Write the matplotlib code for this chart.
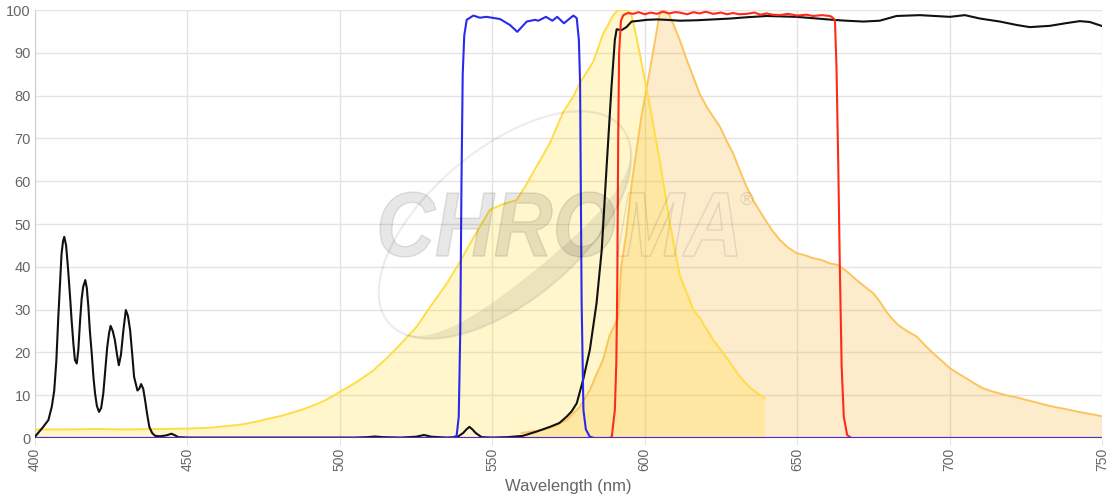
import numpy as np
import matplotlib
matplotlib.use("Agg")
import matplotlib.pyplot as plt
from matplotlib.textpath import TextPath
from matplotlib.font_manager import FontProperties
from matplotlib.patches import PathPatch, Polygon
from matplotlib.lines import Line2D
from matplotlib.transforms import Affine2D

# ---------------- data ----------------
black_x = [400, 402.7, 404.4, 405.5, 406.3, 407.0, 407.6, 408.2, 408.7, 409.2, 409.6, 410.2, 410.9, 411.5, 412.0, 412.6, 413.1, 413.7,
           414.2, 414.8, 415.3, 415.8, 416.5, 417.0, 417.5, 418.0, 418.6, 419.2, 419.7, 420.3, 421.0, 421.7, 422.4, 423.0, 423.7, 424.3,
           424.8, 425.5, 426.2, 426.9, 427.5, 428.2, 429.0, 429.8, 430.5, 431.2, 431.9, 432.5, 433.6, 434.2, 434.8, 435.5, 436.1, 436.8,
           437.5, 438.4, 439.4, 441.0, 443.0, 444.8, 446.0, 447.0, 450, 460, 470, 480, 490, 500, 505, 509, 511.5, 514, 520, 525, 527.6,
           530, 535, 538.5, 540.5, 541.5, 542.5, 543.5, 544.5, 546.5, 550, 555, 560, 564.5, 568.9, 572.0, 574.4, 576.0, 577.7, 579.8,
           582.0, 584.2, 585.9, 587.5, 589.1, 590.2, 590.8, 592.4, 594.0, 595.7, 598.4, 600.6, 604, 607.2, 611.5, 617, 622.5, 628, 633.4,
           640.0, 645, 649.8, 655, 661.8, 666, 671.7, 677.1, 682.6, 690.3, 695, 700.1, 705.0, 710.0, 716.5, 722.0, 726.3, 732.9, 738,
           742.7, 746, 749.8]
black_y = [0.3, 2.6, 4.2, 7.3, 11.0, 18.0, 27.6, 36.0, 43.0, 46.0, 47.0, 45.0, 39.0, 33.0, 27.6, 22.0, 18.2, 17.4,
           20.5, 27.6, 32.5, 35.3, 36.9, 35.0, 30.7, 25.0, 19.8, 14.0, 10.4, 7.5, 6.1, 7.0, 10.4, 15.5, 21.3, 24.5,
           26.2, 25.0, 22.9, 19.5, 17.0, 19.5, 25.2, 29.9, 28.5, 25.2, 19.5, 14.3, 11.1, 11.5, 12.6, 11.5, 8.9, 5.5,
           2.6, 1.2, 0.5, 0.4, 0.6, 1.0, 0.6, 0.2, 0.1, 0.1, 0.1, 0.1, 0.1, 0.1, 0.1, 0.2, 0.35, 0.2, 0.1, 0.3, 0.7,
           0.3, 0.1, 0.2, 1.2, 2.0, 2.6, 2.0, 1.2, 0.2, 0.1, 0.2, 0.5, 1.5, 2.6, 3.5, 5.0, 6.2, 8.1, 13.6,
           20.6, 31.5, 43.9, 63.4, 82.0, 93.0, 95.5, 95.3, 96.0, 97.3, 97.5, 97.7, 97.8, 97.7, 97.5, 97.6, 97.8, 98.0, 98.3,
           98.6, 98.5, 98.4, 98.1, 97.7, 97.5, 97.3, 97.5, 98.6, 98.8, 98.6, 98.4, 98.8, 98.0, 97.3, 96.5, 96.0, 96.3, 96.9,
           97.4, 97.2, 96.3]

blue_x = [400, 500, 536.5, 538.3, 539.0, 539.5, 539.9, 540.3, 540.8, 541.6, 543.8, 545.9, 548.1, 552.5, 555.8, 558.2, 561.3, 564.0,
          565.1, 567.6, 569.7, 571.3, 573.5, 576.6, 577.7, 578.4, 578.8, 579.3, 579.9, 580.7, 582.0, 583.5, 650, 750]
blue_y = [0, 0, 0, 0.5, 5, 25, 60, 85, 94, 97.7, 98.7, 98.2, 98.4, 97.9, 96.5, 94.9, 97.3, 97.7,
          97.5, 98.4, 97.5, 98.4, 96.9, 98.7, 98.1, 93, 83, 32, 6.5, 2.0, 0.3, 0, 0, 0]

red_x = [400, 560, 588.5, 589.2, 590.2, 590.7, 591.0, 591.3, 591.6, 592.2, 593.0, 594.5, 596.2, 598, 600, 602, 604, 606, 608, 610,
         611.5, 614, 616, 618, 620, 622.5, 625, 627, 629, 631, 633.4, 636, 638, 640, 642, 644.3, 647, 650, 653, 655.3, 658, 660.7,
         661.3, 662.4, 662.9, 663.5, 664.0, 664.6, 665.3, 666.4, 667.8, 700, 750]
red_y = [0, 0, 0, 0.3, 6.5, 18, 36, 70, 90, 97.5, 98.8, 99.3, 99.1, 99.5, 99.0, 99.4, 99.1, 99.6, 99.2, 99.5,
         99.4, 99.0, 99.5, 99.2, 99.6, 99.1, 99.4, 99.0, 99.3, 99.0, 99.1, 99.4, 98.9, 99.2, 98.9, 98.8, 99.1, 98.7, 98.9, 98.6, 98.8, 98.6,
         98.4, 97.7, 86.8, 63.4, 40.0, 16.7, 5.0, 0.7, 0, 0, 0]

yellow_x = [400, 410, 420, 430, 441, 450, 457.4, 463, 468.3, 473, 477.1, 481, 484.7, 487.5, 490.2, 493, 495.7, 498, 500, 503,
            506.6, 511, 515.3, 520, 525.2, 530, 535, 539.4, 544, 549.2, 553, 558, 561, 564.5, 568.9, 573.3, 576.6, 578.7, 583.1,
            586.4, 589.7, 591.3, 594.0, 595.5, 597.2, 599.0, 601.7, 605.0, 608.3, 611.5, 616.0, 618.1, 622.5, 627.4, 631.2, 635,
            639.4]
yellow_y = [2.0, 2.0, 2.1, 2.0, 2.1, 2.2, 2.4, 2.8, 3.2, 3.9, 4.6, 5.2, 6.0, 6.6, 7.3, 8.1, 9.0, 9.9, 10.8, 12.0,
            13.6, 15.8, 18.6, 22.0, 26.0, 31.0, 36.0, 41.2, 47.0, 53.3, 54.5, 55.6, 59.0, 63.4, 68.9, 76.2, 79.8, 82.9, 87.9,
            94.5, 98.8, 100, 100, 99.2, 94.0, 87.5, 77.5, 64.5, 50.0, 38.0, 29.9, 28.0, 22.9, 18.2, 14.3, 11.5,
            9.3]

orange_x = [559.6, 563, 566.7, 570.5, 574.4, 578.7, 582.0, 584.8, 586.3, 588.5, 591.3, 592.3, 594.0, 595.6, 597.3, 598.9, 601.6,
            603.8, 605.0, 605.9, 607.8, 609.5, 611.5, 613.7, 615.9, 618, 620.3, 622.5, 624.7, 626.8, 629.0, 631.2, 633.4, 636, 638.9,
            641.5, 644.3, 647, 649.8, 652.5, 655.3, 658, 660.7, 663.5, 666.5, 669.5, 672.3, 675.0, 677, 679.3, 681, 683.1, 686, 689.2,
            692, 694.6, 697.5, 700.1, 703, 705.6, 708, 711.0, 713.5, 716.5, 719, 722.0, 724.5, 727.4, 730, 732.9, 735.5, 738.4, 741,
            743.8, 747, 749.8]
orange_y = [1.2, 1.5, 1.9, 2.8, 4.2, 7.3, 11.2, 15.9, 18.2, 24.0, 28.0, 40.0, 48.0, 58.7, 67.3, 75.0, 85.6,
            94.5, 99.6, 100, 99.2, 96.5, 93.0, 88.5, 84.4, 80.5, 77.4, 75.0, 72.7, 69.5, 66.5, 62.5, 58.7, 55.0, 51.7,
            48.8, 46.3, 44.5, 43.2, 42.7, 42.0, 41.6, 40.8, 40.4, 38.8, 36.9, 35.3, 33.8, 32.0, 29.5, 28.0, 26.4, 25.0, 23.7,
            21.6, 19.8, 18.0, 16.3, 15.0, 13.9, 12.8, 11.6, 11.0, 10.4, 9.9, 9.5, 9.0, 8.5, 8.0, 7.5, 7.1, 6.7, 6.3,
            5.9, 5.5, 5.1]

x_ticks = [400, 450, 500, 550, 600, 650, 700, 750]
y_ticks = [0, 10, 20, 30, 40, 50, 60, 70, 80, 90, 100]

# ---------------- figure ----------------
W, H = 1120, 500
fig = plt.figure(figsize=(W / 100, H / 100), dpi=100)
ax = fig.add_axes([35 / W, 62 / H, 1067 / W, 428 / H])

grid_c = "#e4e4e4"
ax.fill_between(orange_x, orange_y, 0, color=(0.96, 0.63, 0.0), alpha=0.2, lw=0, zorder=2)
ax.fill_between(yellow_x, yellow_y, 0, color=(1.0, 0.84, 0.0), alpha=0.2, lw=0, zorder=2)
ax.plot(orange_x, orange_y, color="#FCC55C", lw=1.4, zorder=3)
ax.plot(yellow_x, yellow_y, color="#FFDD45", lw=1.4, zorder=3)
ax.plot(black_x, black_y, color="#111111", lw=1.5, zorder=4)
ax.plot(red_x, red_y, color="#FF2A1A", lw=1.5, zorder=5)
ax.plot(blue_x, blue_y, color="#2A2AEE", lw=1.5, zorder=6)
ax.axhline(0, color="#4B2FCF", lw=1.5, zorder=7)

ax.set_xlim(400, 750)
ax.set_ylim(0, 100)
ax.set_xticks(x_ticks)
ax.set_yticks(y_ticks)
ax.grid(True, color=grid_c, lw=1, zorder=0)
ax.set_axisbelow(True)
for s in ["top", "right", "bottom"]:
    ax.spines[s].set_visible(False)
ax.spines["left"].set_color("#cfcfcf")
ax.tick_params(axis="x", length=5, color=grid_c, labelcolor="#666666", labelsize=10, labelrotation=90, pad=2)
ax.tick_params(axis="y", length=0, labelcolor="#666666", labelsize=10.5, pad=3)
for lab in ax.get_xticklabels() + ax.get_yticklabels():
    lab.set_fontfamily("Liberation Sans")
ax.set_xlabel("Wavelength (nm)", fontsize=12, color="#666666", family="Liberation Sans", labelpad=6)

# ---------------- CHROMA watermark (pixel coords, y down) ----------------
def to_disp(px, py):
    return np.column_stack([px, H - np.asarray(py)])

fp = FontProperties(family="Liberation Sans", weight="bold", style="italic")
tp_full = TextPath((0, 0), "CHROMA", size=100, prop=fp)
tp_chro = TextPath((0, 0), "CHRO", size=100, prop=fp)
ext = tp_full.get_extents()
x0, x1, ytop, ybot = 380, 737, 192, 257
sx = (x1 - x0) / ext.width
sy = (ybot - ytop) / ext.height
tr = Affine2D().translate(-ext.x0, -ext.y0).scale(sx, sy).translate(x0, H - ybot)
fig.add_artist(PathPatch(tp_full, transform=tr, facecolor="none", edgecolor=(0, 0, 0, 0.10), lw=1.0, zorder=10))
fig.add_artist(PathPatch(tp_chro, transform=tr, facecolor=(0, 0, 0, 0.095), edgecolor="none", zorder=10))
fig.text(746 / W, (H - 200) / H, "®", fontsize=13, color=(0, 0, 0, 0.11), ha="center", va="center", zorder=10)

# swoosh ellipse
cx, cy, a, b = 505, 225, 152, 76
ang = np.deg2rad(40)
u = np.array([np.cos(ang), -np.sin(ang)])
v = np.array([np.sin(ang), np.cos(ang)])
t = np.linspace(0, 2 * np.pi, 300)
ex = cx + a * np.cos(t) * u[0] + b * np.sin(t) * v[0]
ey = cy + a * np.cos(t) * u[1] + b * np.sin(t) * v[1]
fig.add_artist(Line2D(ex, H - ey, transform=None, color=(0, 0, 0, 0.07), lw=1.6, zorder=10))
t2 = np.linspace(0.05 * np.pi, 0.98 * np.pi, 200)
wthk = 22 * np.sin((t2 - 0.05 * np.pi) / 0.93) ** 1.2
ox = cx + a * np.cos(t2) * u[0] + b * np.sin(t2) * v[0]
oy = cy + a * np.cos(t2) * u[1] + b * np.sin(t2) * v[1]
ix = cx + a * np.cos(t2) * u[0] + (b - wthk) * np.sin(t2) * v[0]
iy = cy + a * np.cos(t2) * u[1] + (b - wthk) * np.sin(t2) * v[1]
poly = np.vstack([to_disp(ox, oy), to_disp(ix[::-1], iy[::-1])])
fig.add_artist(Polygon(poly, closed=True, transform=None, facecolor=(0, 0, 0, 0.075), edgecolor="none", zorder=10))

fig.savefig("out.png", dpi=100)
